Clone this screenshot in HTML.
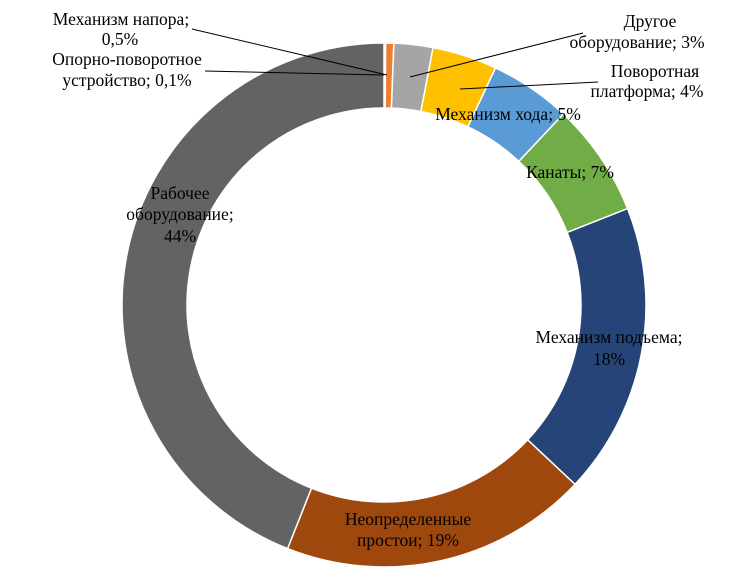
<!DOCTYPE html>
<html><head><meta charset="utf-8"><style>
body{margin:0;background:#fff;width:746px;height:580px;overflow:hidden}
svg text{font-family:"Liberation Serif",serif;font-size:17.5px;fill:#000}
</style></head><body>
<svg id="chart" width="746" height="580" viewBox="0 0 746 580" xmlns="http://www.w3.org/2000/svg">
<g id="slices"></g>
<g id="leaders" stroke="#000" stroke-width="1">
<line x1="192" y1="29" x2="387" y2="75"/>
<line x1="205" y1="71" x2="384" y2="75"/>
<line x1="583" y1="33" x2="410" y2="77"/>
<line x1="598" y1="82" x2="460" y2="89"/>
</g>
<g id="labels" text-anchor="middle">
<text x="121" y="25">Механизм напора;<tspan x="120" dy="20">0,5%</tspan></text>
<text x="127" y="65">Опорно-поворотное<tspan x="127" dy="21">устройство; 0,1%</tspan></text>
<text x="650" y="27">Другое<tspan x="637" dy="21">оборудование; 3%</tspan></text>
<text x="655" y="77">Поворотная<tspan x="647" dy="20">платформа; 4%</tspan></text>
<text x="508" y="120">Механизм хода; 5%</text>
<text x="570" y="178">Канаты; 7%</text>
<text x="609" y="343">Механизм подъема;<tspan x="609" dy="22">18%</tspan></text>
<text x="408" y="525">Неопределенные<tspan x="408" dy="21">простои; 19%</tspan></text>
<text x="180" y="199">Рабочее<tspan x="180" dy="21">оборудование;</tspan><tspan x="180" dy="22">44%</tspan></text>
</g>
</svg>
<script>
const categories=["Опорно-поворотное устройство","Механизм напора","Другое оборудование","Поворотная платформа","Механизм хода","Канаты","Механизм подъема","Неопределенные простои","Рабочее оборудование"];
const values=[0.1,0.5,2.4,4,5,7,18,19,44];
const colors=["#5b9bd5","#ed7d31","#a5a5a5","#ffc000","#5b9bd5","#70ad47","#264478","#9e480e","#636363"];
const cx=384,cy=305,R=262,r=197;
const total=values.reduce((a,b)=>a+b,0);
const g=document.getElementById('slices');
function pt(a,rad){return [cx+rad*Math.sin(a),cy-rad*Math.cos(a)];}
let acc=0;
values.forEach((v,i)=>{
  const a0=acc/total*2*Math.PI;acc+=v;const a1=acc/total*2*Math.PI;
  const large=(a1-a0)>Math.PI?1:0;
  const p0=pt(a0,R),p1=pt(a1,R),q1=pt(a1,r),q0=pt(a0,r);
  const p=document.createElementNS('http://www.w3.org/2000/svg','path');
  p.setAttribute('d',`M${p0[0]},${p0[1]}A${R},${R} 0 ${large} 1 ${p1[0]},${p1[1]}L${q1[0]},${q1[1]}A${r},${r} 0 ${large} 0 ${q0[0]},${q0[1]}Z`);
  p.setAttribute('fill',colors[i]);
  p.setAttribute('stroke','#fff');
  p.setAttribute('stroke-width','1.5');
  
  
  g.appendChild(p);
});
</script>
</body></html>
